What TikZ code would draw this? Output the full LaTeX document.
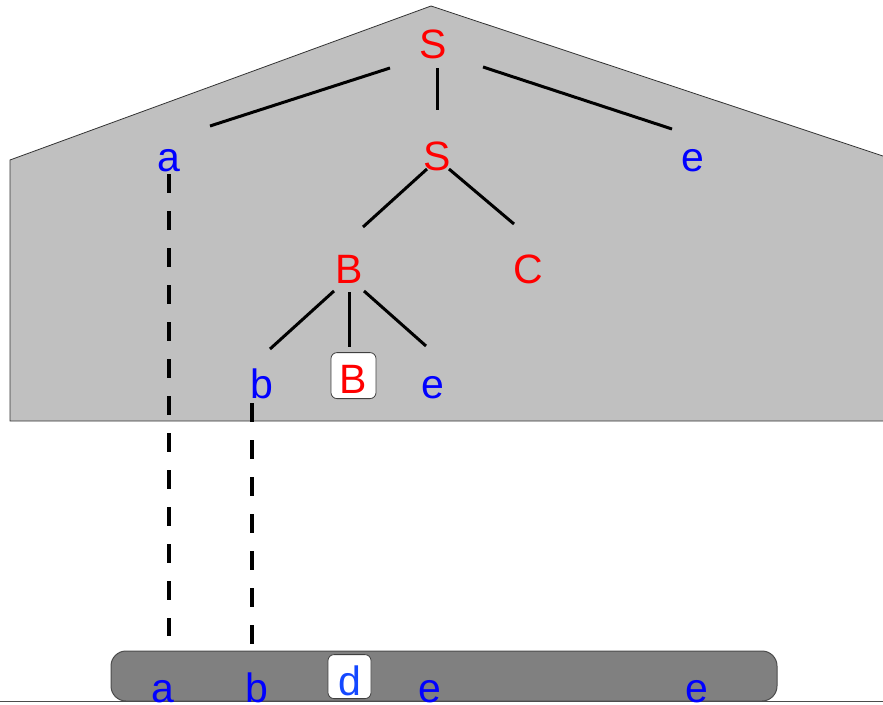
\documentclass[tikz,border=0pt]{standalone}
\usepackage{fontspec}
\setmainfont{Liberation Sans}
\usetikzlibrary{calc}
\definecolor{symred}{RGB}{255,0,0}
\definecolor{symblue}{RGB}{0,0,255}
\definecolor{dblue}{RGB}{20,72,255}
\definecolor{treegray}{RGB}{192,192,192}
\definecolor{bargray}{RGB}{128,128,128}

\begin{document}
\begin{tikzpicture}[x=1pt,y=-1pt,
  sym/.style={inner sep=0pt, anchor=base, font=\fontsize{41}{41}\selectfont},
  nonterm/.style={sym, text=symred},
  term/.style={sym, text=symblue},
  branch/.style={line width=3pt},
  link/.style={line width=3.5pt, dash pattern=on 19pt off 18pt},
  hole/.style={draw=black!75, fill=white, rounded corners=6pt, line width=0.8pt,
    font=\fontsize{41}{41}\selectfont, inner xsep=0pt, text depth=0pt, anchor=south}
]
\clip (0,0) rectangle (883,704);

% derivation tree region
\draw[fill=treegray, draw=black!80, line width=0.8pt]
  (10,160) -- (431,6) -- (895,160) -- (895,421) -- (10,421) -- cycle;

% derived string bar
\draw[fill=bargray, draw=black!70, line width=1pt, rounded corners=15pt]
  (111,651) rectangle (777,701);
\draw[black!70, line width=1pt] (0,701) -- (883,701);

% tree symbols
\node[nonterm] (s0) at (433,58) {S};
\node[term]    (a)  at (169,171) {a};
\node[nonterm] (s1) at (437,170) {S};
\node[term]    (e1) at (693,171) {e};
\node[nonterm] (B1) at (349,283) {B};
\node[nonterm] (C)  at (528,283) {C};
\node[term]    (b)  at (262,398) {b};
\node[hole, text=symred, minimum width=45pt, text height=36pt, inner ysep=5pt]
               (B2) at (353.5,399) {B};
\node[term]    (e2) at (433,398) {e};

% string symbols
\node[term] (ba)  at (163,702) {a};
\node[term] (bb)  at (257,702) {b};
\node[term] (be1) at (430,702) {e};
\node[term] (be2) at (697,702) {e};
\node[hole, text=dblue, minimum width=43pt, text height=38pt, inner ysep=3pt]
            (bd) at (349.5,699) {d};

% branches
\draw[branch] ($(s0.base)+(-43,10)$) -- ($(a.base)+(41,-45)$);
\draw[branch] ($(s0.base)+(4,10)$)   -- ($(s1.base)+(0,-60)$);
\draw[branch] ($(s0.base)+(50,9)$)   -- ($(e1.base)+(-21,-42)$);
\draw[branch] ($(s1.base)+(-10,-1)$) -- ($(B1.base)+(14,-56)$);
\draw[branch] ($(s1.base)+(12,-1)$)  -- ($(C.base)+(-14,-59)$);
\draw[branch] ($(B1.base)+(-15,8)$)  -- ($(b.base)+(8,-49)$);
\draw[branch] ($(B1.base)+(0,9)$)    -- ($(B2.north)+(-4.5,-5)$);
\draw[branch] ($(B1.base)+(15,8)$)   -- ($(e2.base)+(-7,-52)$);

% links from leaves to the string
\draw[link] ($(a.base)+(0,3)$)   -- ($(ba.base)+(6,-66)$);
\draw[link] ($(b.base)+(-10,5)$) -- ($(bb.base)+(-5,-58)$);
\end{tikzpicture}
\end{document}
